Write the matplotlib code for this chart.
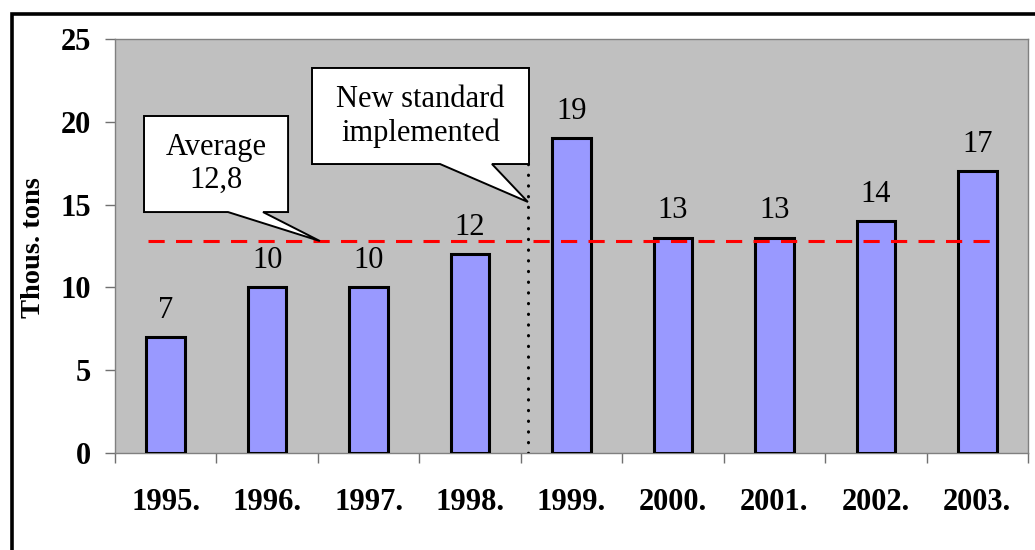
import matplotlib
matplotlib.use("Agg")
import matplotlib.pyplot as plt
from matplotlib.patches import Polygon, Rectangle

# yearly quantities, thousand tons
years = ["1995.", "1996.", "1997.", "1998.", "1999.", "2000.", "2001.", "2002.", "2003."]
values = [7, 10, 10, 12, 19, 13, 13, 14, 17]
average = 12.8
average_label = "Average\n12,8"
standard_label = "New standard\nimplemented"
standard_x = 3.57  # between 1998 and 1999

plt.rcParams["font.family"] = ["Liberation Serif", "DejaVu Serif"]

fig = plt.figure(figsize=(10.35, 5.5), dpi=100)
ax = fig.add_axes([115 / 1035, 97 / 550, 913 / 1035, 414 / 550])
ax.set_facecolor("#C0C0C0")

x = list(range(len(years)))
ax.bar(x, values, width=0.38, color="#9999FF", edgecolor="black", linewidth=2.2, zorder=3)

for xi, v in zip(x, values):
    ax.annotate(str(v), (xi, v), xytext=(0, 14), textcoords="offset points",
                ha="center", va="baseline", fontsize=22, zorder=5)

# average line
ax.hlines(average, -0.17, 8.16, colors="#FF0000", linewidth=2.2,
          linestyles=(0, (5.3, 3.7)), zorder=4)

# marker for the new standard
ax.plot([standard_x, standard_x], [0, 18.6], color="black", linewidth=2.2,
        linestyle=(0, (0.1, 3.4)), dash_capstyle="round", zorder=4)


def callout(x0, x1, y0, y1, p0, p1, tip, text):
    pts = [(x0, y1), (x1, y1), (x1, y0), (p1, y0), tip, (p0, y0), (x0, y0)]
    ax.add_patch(Polygon(pts, closed=True, facecolor="white", edgecolor="black",
                         linewidth=1.4, zorder=6))
    ax.text((x0 + x1) / 2, (y0 + y1) / 2, text, ha="center", va="center",
            fontsize=22, linespacing=1.2, zorder=7)


callout(-0.214, 1.206, 14.55, 20.35, 0.614, 0.959, (1.52, average), average_label)
callout(1.442, 3.581, 17.45, 23.25, 2.704, 3.216, (standard_x, 15.16), standard_label)

ax.set_xlim(-0.5, len(years) - 0.5)
ax.set_ylim(0, 25)
ax.set_yticks([0, 5, 10, 15, 20, 25])
ax.set_xticks(x)
ax.set_xticklabels(years)
ax.set_xticks([i + 0.5 for i in range(-1, len(years))], minor=True)
ax.tick_params(axis="x", which="major", length=0, pad=25)
ax.tick_params(axis="x", which="minor", length=7, width=1, color="#707070")
ax.tick_params(axis="y", length=7, width=1, color="#707070", pad=10)
for lab in ax.get_xticklabels() + ax.get_yticklabels():
    lab.set_fontweight("bold")
    lab.set_fontsize(22)

for s in ax.spines.values():
    s.set_color("#808080")
    s.set_linewidth(1)

fig.text(33.5 / 1035, 0.55, "Thous. tons", rotation=90, ha="center", va="center",
         fontsize=20.5, fontweight="bold")

# outer frame
fig.patches.append(Rectangle((11.5 / 1035, -0.2), 1.2, 1.2 - 14.3 / 550,
                             transform=fig.transFigure, fill=False,
                             edgecolor="black", linewidth=2.6, clip_on=False))

fig.savefig("out.png", dpi=100)
